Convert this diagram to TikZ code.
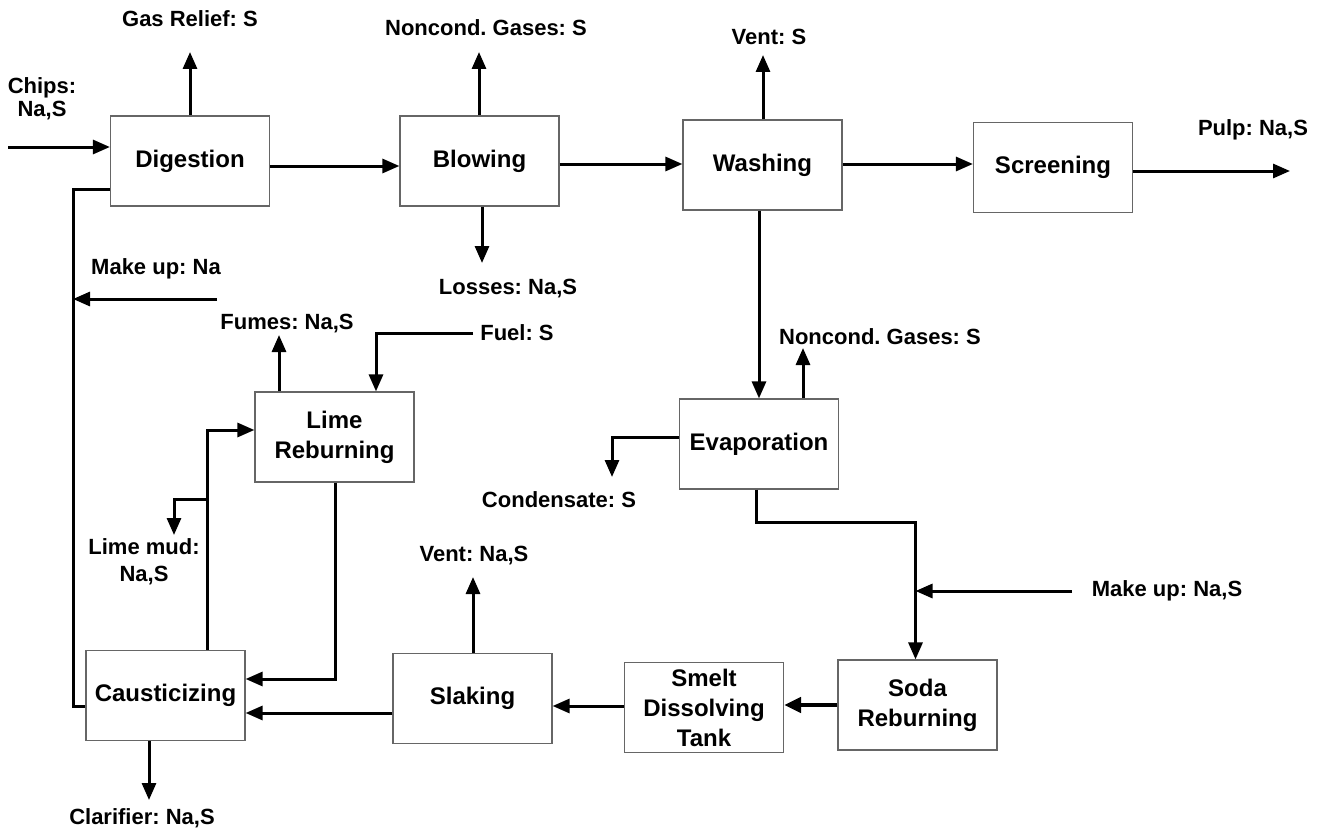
\documentclass[tikz,border=0pt]{standalone}
\usepackage{fontspec}
\setmainfont{Liberation Sans}
\usetikzlibrary{arrows.meta}
\frenchspacing
\tikzset{
  box/.style={draw=black!60, line width=1.2pt, minimum width=159pt, minimum height=90pt,
    align=center, inner sep=0pt, font=\fontsize{24}{30}\selectfont\bfseries},
  lbl/.style={align=center, inner sep=0pt, font=\fontsize{22}{23}\selectfont\bfseries},
  flow/.style={line width=3pt, -{Triangle[length=17pt,width=14pt]}},
  pipe/.style={line width=3pt},
}
\begin{document}
\begin{tikzpicture}[x=1pt,y=-1pt]
\useasboundingbox (0,0) rectangle (1319,832);
% process boxes
\node[box] (dig)   at (190,161)   {Digestion};
\node[box] (blow)  at (479.5,161) {Blowing};
\node[box] (wash)  at (762.5,165) {Washing};
\node[box] (scr)   at (1053,167.5) {Screening};
\node[box] (evap)  at (759,444)   {Evaporation};
\node[box] (lime)  at (334.5,437) {Lime\\Reburning};
\node[box] (caus)  at (165.5,695.5) {Causticizing};
\node[box] (slak)  at (472.5,698.5) {Slaking};
\node[box] (smelt) at (704,707.5) {Smelt\\Dissolving\\Tank};
\node[box] (soda)  at (917.5,705) {Soda\\Reburning};
% labels
\node[lbl] (chipsL) at (42,99) {Chips:\\Na,S};
\node[lbl] (gasL)   at (190,19) {Gas Relief: S};
\node[lbl] (nc1L)   at (486,28) {Noncond. Gases: S};
\node[lbl] (lossL)  at (508,289) {Losses: Na,S};
\node[lbl] (vent1L) at (769,37) {Vent: S};
\node[lbl] (pulpL)  at (1253,130) {Pulp: Na,S};
\node[lbl] (nc2L)   at (880,337) {Noncond. Gases: S};
\node[lbl] (condL)  at (559,500) {Condensate: S};
\node[lbl] (muL)    at (1167,591) {Make up: Na,S};
\node[lbl] (vent2L) at (474,556) {Vent: Na,S};
\node[lbl] (clarL)  at (142,818) {Clarifier: Na,S};
\node[lbl, font=\fontsize{22}{27}\selectfont\bfseries] (mudL) at (144,562) {Lime mud:\\Na,S};
\node[lbl] (muNaL)  at (156,269) {Make up: Na};
\node[lbl] (fumL)   at (287,324) {Fumes: Na,S};
\node[lbl] (fuelL)  at (517,333) {Fuel: S};
% free ends
\coordinate (chipsIn) at (8,147);
\coordinate (gasEnd) at (190,52);
\coordinate (nc1End) at (479,52);
\coordinate (lossEnd) at (482,263);
\coordinate (vent1End) at (763,55);
\coordinate (pulpEnd) at (1290,171);
\coordinate (nc2End) at (803,348);
\coordinate (condEnd) at (612,477);
\coordinate (eb) at (756,522);
\coordinate (sodaIn) at ([xshift=-2pt]soda.north);
\coordinate (muStart) at (1072,591);
\coordinate (vent2End) at (473,577);
\coordinate (lc) at (335,679);
\coordinate (cl) at (207,430);
\coordinate (lmA) at (207,499);
\coordinate (lmEnd) at (174,535);
\coordinate (fumEnd) at (279,335);
\coordinate (fuelStart) at (473,333);
\coordinate (fuelX) at (376,333);
\coordinate (loopB) at (73,706);
\coordinate (loopT) at (73,189);
\coordinate (muNa) at (217,299);
\coordinate (clarEnd) at (149,800);
% connectors
\draw[flow] (chipsIn) -- (chipsIn -| dig.west);
\draw[flow] (gasEnd |- dig.north) -- (gasEnd);
\draw[flow] ([yshift=-5pt]dig.east) -- ([yshift=-5pt]blow.west);
\draw[flow] (nc1End |- blow.north) -- (nc1End);
\draw[flow] (lossEnd |- blow.south) -- (lossEnd);
\draw[flow] ([yshift=-3pt]blow.east) -- ([yshift=-3pt]blow.east -| wash.west);
\draw[flow] (vent1End |- wash.north) -- (vent1End);
\draw[flow] ([yshift=1pt]wash.east) -- ([yshift=1pt]wash.east -| scr.west);
\draw[flow] (pulpEnd -| scr.east) -- (pulpEnd);
\draw[flow] (wash.south -| evap.north) -- (evap.north);
\draw[flow] (nc2End |- evap.north) -- (nc2End);
\draw[flow] ([yshift=7pt]evap.west) -| (condEnd);
\draw[flow] (eb |- evap.south) -- (eb) -| (sodaIn);
\draw[flow] (muStart) -- (muStart -| sodaIn);
\draw[flow, line width=4.5pt, -{Triangle[length=17pt,width=15pt]}] (soda.west) -- (soda.west -| smelt.east);
\draw[flow] ([yshift=1.5pt]smelt.west) -- ([yshift=1.5pt]smelt.west -| slak.east);
\draw[flow] (vent2End |- slak.north) -- (vent2End);
\draw[flow] ([yshift=-14.5pt]slak.west) -- ([yshift=-14.5pt]slak.west -| caus.east);
\draw[flow] (lc |- lime.south) -- (lc) -- (lc -| caus.east);
\draw[flow] (cl |- caus.north) -- (cl) -- (cl -| lime.west);
\draw[flow] (lmA) -| (lmEnd);
\draw[flow] (fumEnd |- lime.north) -- (fumEnd);
\draw[flow] (fuelStart) -- (fuelX) -- (fuelX |- lime.north);
\draw[pipe] (loopB -| caus.west) -- (loopB) -- (loopT) -- (loopT -| dig.west);
\draw[flow] (muNa) -- (muNa -| loopT);
\draw[flow] (clarEnd |- caus.south) -- (clarEnd);
\end{tikzpicture}
\end{document}
